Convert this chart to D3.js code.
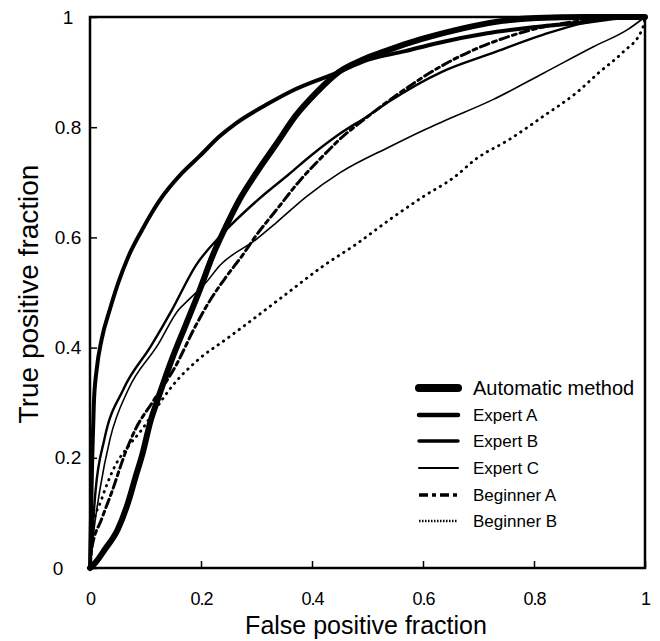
<!DOCTYPE html>
<html>
  <head>
    <title>ROC curves</title>
    <script src="https://d3js.org/d3.v7.min.js"></script>
    <style>
      body { margin: 0; background: #fff; }
      text { font-family: "Liberation Sans", Arial, sans-serif; fill: #000; }
      .tick text { font-size: 18px; }
    </style>
  </head>
  <body>
    <div id="chart"></div>
    <script>
      // ROC points as [false positive fraction, true positive fraction]
      const automaticMethod = [
        [0, 0], [0.01, 0.01], [0.027, 0.034], [0.05, 0.07], [0.069, 0.12], [0.082, 0.165],
        [0.094, 0.205], [0.11, 0.27], [0.12, 0.3], [0.148, 0.38], [0.172, 0.44], [0.196, 0.5],
        [0.221, 0.567], [0.245, 0.62], [0.269, 0.668], [0.299, 0.716], [0.336, 0.77],
        [0.37, 0.82], [0.41, 0.865], [0.448, 0.9], [0.49, 0.922], [0.532, 0.938],
        [0.575, 0.953], [0.623, 0.967], [0.684, 0.982], [0.744, 0.993], [0.804, 0.998],
        [0.895, 1], [1, 1]
      ];
      const expertA = [
        [0, 0], [0.002, 0.1], [0.004, 0.2], [0.007, 0.3], [0.012, 0.36], [0.021, 0.415],
        [0.036, 0.47], [0.051, 0.518], [0.069, 0.565], [0.094, 0.614], [0.124, 0.665],
        [0.166, 0.717], [0.197, 0.747], [0.233, 0.783], [0.263, 0.807], [0.318, 0.841],
        [0.368, 0.868], [0.448, 0.9], [0.5, 0.922], [0.568, 0.938], [0.623, 0.952],
        [0.713, 0.97], [0.804, 0.982], [0.895, 0.991], [0.95, 0.998], [1, 1]
      ];
      const expertB = [
        [0, 0], [0.004, 0.06], [0.01, 0.14], [0.026, 0.234], [0.06, 0.324], [0.11, 0.403],
        [0.148, 0.469], [0.19, 0.548], [0.239, 0.607], [0.299, 0.665], [0.36, 0.716],
        [0.4, 0.75], [0.45, 0.788], [0.5, 0.82], [0.541, 0.848], [0.635, 0.901],
        [0.726, 0.935], [0.817, 0.968], [0.889, 0.989], [0.95, 0.998], [1, 1]
      ];
      const expertC = [
        [0, 0], [0.006, 0.06], [0.018, 0.143], [0.036, 0.234], [0.069, 0.324], [0.121, 0.403],
        [0.16, 0.469], [0.178, 0.487], [0.209, 0.518], [0.233, 0.548], [0.299, 0.596],
        [0.336, 0.627], [0.39, 0.674], [0.45, 0.717], [0.541, 0.765], [0.602, 0.795],
        [0.635, 0.81], [0.726, 0.85], [0.817, 0.898], [0.907, 0.946], [0.97, 0.978], [1, 1]
      ];
      const beginnerA = [
        [0, 0], [0.003, 0.034], [0.021, 0.089], [0.039, 0.137], [0.064, 0.21], [0.082, 0.252],
        [0.112, 0.3], [0.154, 0.366], [0.19, 0.439], [0.214, 0.482], [0.245, 0.528],
        [0.275, 0.568], [0.299, 0.603], [0.336, 0.65], [0.378, 0.703], [0.42, 0.748],
        [0.45, 0.778], [0.499, 0.818], [0.541, 0.85], [0.635, 0.912], [0.695, 0.942],
        [0.756, 0.965], [0.804, 0.979], [0.877, 0.992], [1, 1]
      ];
      const beginnerB = [
        [0, 0], [0.003, 0.065], [0.021, 0.125], [0.045, 0.185], [0.07, 0.222], [0.094, 0.252],
        [0.118, 0.288], [0.148, 0.33], [0.196, 0.379], [0.245, 0.415], [0.293, 0.451],
        [0.357, 0.5], [0.42, 0.548], [0.48, 0.588], [0.541, 0.633], [0.602, 0.675],
        [0.656, 0.709], [0.695, 0.742], [0.756, 0.778], [0.817, 0.82], [0.877, 0.863],
        [0.918, 0.9], [0.96, 0.936], [0.995, 0.978], [1, 1]
      ];

      const seriesNames = ["Automatic method", "Expert A", "Expert B", "Expert C", "Beginner A", "Beginner B"];
      const seriesData = [automaticMethod, expertA, expertB, expertC, beginnerA, beginnerB];
      const xTicks = [0, 0.2, 0.4, 0.6, 0.8, 1];
      const yTicks = [0, 0.2, 0.4, 0.6, 0.8, 1];

      // line looks, one per series
      const styles = [
        { width: 6, dash: null, legendWidth: 8, size: 20 },
        { width: 4, dash: null, legendWidth: 4.5, size: 17 },
        { width: 2.4, dash: null, legendWidth: 3.5, size: 17 },
        { width: 1.6, dash: null, legendWidth: 2, size: 17 },
        { width: 3, dash: "9,4,4,4", legendWidth: 3.5, size: 17 },
        { width: 2.8, dash: "0.5,6", legendWidth: 2.5, size: 17 }
      ];

      const W = 660, H = 641;
      const svg = d3.select("#chart").append("svg").attr("width", W).attr("height", H);

      const x = d3.scaleLinear().domain([0, 1]).range([90, 645]);
      const y = d3.scaleLinear().domain([0, 1]).range([568, 17]);

      // x axis with inward ticks
      const xAxis = svg.append("g")
        .attr("transform", `translate(0, ${y(0)})`)
        .call(d3.axisBottom(x).tickValues(xTicks).tickFormat(d3.format("~g"))
          .tickSizeInner(-7).tickSizeOuter(0).tickPadding(24));
      xAxis.select(".domain").remove();
      xAxis.selectAll(".tick line").attr("stroke-width", 1.5);
      xAxis.selectAll(".tick text").style("letter-spacing", "-1px");

      const yAxis = svg.append("g")
        .attr("transform", `translate(${x(0)}, 0)`)
        .call(d3.axisLeft(y).tickValues(yTicks).tickFormat(d3.format("~g"))
          .tickSizeInner(-7).tickSizeOuter(0).tickPadding(22));
      yAxis.select(".domain").remove();
      yAxis.selectAll(".tick line").attr("stroke-width", 1.5);
      yAxis.selectAll(".tick text")
        .style("font-size", "19px")
        .attr("text-anchor", "middle")
        .attr("x", (d) => (d === 0 ? -32 : -22));

      // curves
      const line = d3.line()
        .x((d) => x(d[0]))
        .y((d) => y(d[1]))
        .curve(d3.curveMonotoneX);

      seriesData.forEach((pts, i) => {
        const s = styles[i];
        svg.append("path")
          .datum(pts)
          .attr("fill", "none")
          .attr("stroke", "#000")
          .attr("stroke-width", s.width)
          .attr("stroke-linejoin", "round")
          .attr("stroke-linecap", "round")
          .attr("stroke-dasharray", s.dash)
          .attr("d", line);
      });

      // frame
      svg.append("rect")
        .attr("x", x(0)).attr("y", y(1))
        .attr("width", x(1) - x(0)).attr("height", y(0) - y(1))
        .attr("fill", "none").attr("stroke", "#000").attr("stroke-width", 2.5);

      // legend
      const legendRows = [388, 415, 441, 468, 495, 521];
      const legend = svg.append("g");
      seriesNames.forEach((name, i) => {
        const s = styles[i];
        legend.append("line")
          .attr("x1", 419).attr("x2", 458)
          .attr("y1", legendRows[i]).attr("y2", legendRows[i])
          .attr("stroke", "#000")
          .attr("stroke-width", s.legendWidth)
          .attr("stroke-linecap", s.dash ? "butt" : "round")
          .attr("stroke-dasharray", i === 5 ? "1.5,1.5" : s.dash);
        legend.append("text")
          .attr("x", 473)
          .attr("y", legendRows[i])
          .attr("dy", "0.36em")
          .style("font-size", s.size + "px")
          .text(name);
      });

      // axis titles
      svg.append("text")
        .attr("x", 366).attr("y", 634)
        .attr("text-anchor", "middle")
        .style("font-size", "25px")
        .text("False positive fraction");

      svg.append("text")
        .attr("transform", "translate(38, 294) rotate(-90)")
        .attr("text-anchor", "middle")
        .style("font-size", "28px")
        .text("True positive fraction");
    </script>
  </body>
</html>
